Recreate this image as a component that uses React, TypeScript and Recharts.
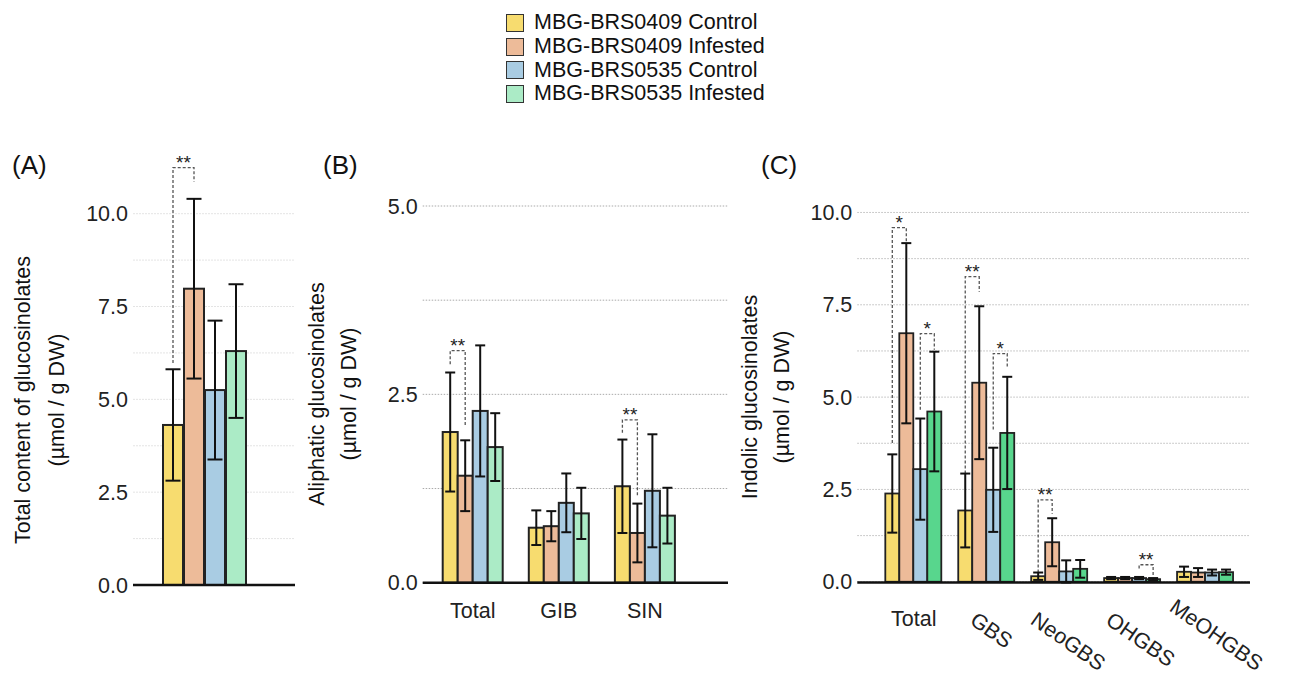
import { Bar, BarChart, CartesianGrid, ErrorBar, XAxis, YAxis } from "recharts";

const FONT = '"Liberation Sans", Arial, Helvetica, sans-serif';
const FS = 21.5;

const seriesNames = [
  "MBG-BRS0409 Control",
  "MBG-BRS0409 Infested",
  "MBG-BRS0535 Control",
  "MBG-BRS0535 Infested"
];
const seriesKeys = ["c409", "i409", "c535", "i535"];
const lightColors = ["#F7DC6F", "#EDBB99", "#A9CCE3", "#ABEBC6"];
const indolicColors = ["#F7DC6F", "#EDBB99", "#A9CCE3", "#58D68D"];

// (A) total glucosinolates
const totalCategories = ["Total"];
const totalC409 = [4.31];
const totalI409 = [7.98];
const totalC535 = [5.25];
const totalI535 = [6.3];
const totalC409Sd = [1.5];
const totalI409Sd = [2.42];
const totalC535Sd = [1.87];
const totalI535Sd = [1.8];

// (B) aliphatic
const aliphaticCategories = ["Total", "GIB", "SIN"];
const aliC409 = [2.0, 0.73, 1.28];
const aliI409 = [1.42, 0.75, 0.66];
const aliC535 = [2.28, 1.06, 1.22];
const aliI535 = [1.8, 0.92, 0.89];
const aliC409Sd = [0.79, 0.23, 0.62];
const aliI409Sd = [0.47, 0.2, 0.39];
const aliC535Sd = [0.87, 0.39, 0.75];
const aliI535Sd = [0.45, 0.34, 0.37];

// (C) indolic
const indolicCategories = ["Total", "GBS", "NeoGBS", "OHGBS", "MeOHGBS"];
const indC409 = [2.39, 1.93, 0.15, 0.1, 0.27];
const indI409 = [6.73, 5.39, 1.07, 0.1, 0.25];
const indC535 = [3.05, 2.49, 0.28, 0.1, 0.25];
const indI535 = [4.61, 4.03, 0.35, 0.07, 0.26];
const indC409Sd = [1.06, 1.0, 0.1, 0.03, 0.14];
const indI409Sd = [2.44, 2.07, 0.65, 0.03, 0.12];
const indC535Sd = [1.37, 1.14, 0.3, 0.03, 0.08];
const indI535Sd = [1.62, 1.52, 0.24, 0.03, 0.07];

const tenTicks = [0, 1.25, 2.5, 3.75, 5, 6.25, 7.5, 8.75, 10];
const fiveTicks = [0, 1.25, 2.5, 3.75, 5];

type Bracket = {
  category: string;
  left: number; // series index of the left bar, the right one is left + 1
  leftEnd: number;
  top: number;
  rightEnd: number;
  label: string;
};

const totalBrackets: Bracket[] = [
  { category: "Total", left: 0, leftEnd: 5.98, top: 11.24, rightEnd: 10.86, label: "**" }
];
const aliphaticBrackets: Bracket[] = [
  { category: "Total", left: 0, leftEnd: 2.9, top: 3.08, rightEnd: 2.07, label: "**" },
  { category: "SIN", left: 0, leftEnd: 1.99, top: 2.16, rightEnd: 1.15, label: "**" }
];
const indolicBrackets: Bracket[] = [
  { category: "Total", left: 0, leftEnd: 3.76, top: 9.59, rightEnd: 9.21, label: "*" },
  { category: "Total", left: 2, leftEnd: 4.66, top: 6.72, rightEnd: 6.28, label: "*" },
  { category: "GBS", left: 0, leftEnd: 2.93, top: 8.26, rightEnd: 7.85, label: "**" },
  { category: "GBS", left: 2, leftEnd: 4.12, top: 6.18, rightEnd: 5.8, label: "*" },
  { category: "NeoGBS", left: 0, leftEnd: 0.25, top: 2.22, rightEnd: 1.84, label: "**" },
  { category: "OHGBS", left: 2, leftEnd: 0.36, top: 0.46, rightEnd: 0.15, label: "**" }
];

function buildRows(categories: string[], means: number[][], sds: number[][]) {
  return categories.map((name, i) => {
    const row: Record<string, any> = { name };
    seriesKeys.forEach((k, s) => {
      row[k] = means[s][i];
      row[k + "Sd"] = sds[s][i];
    });
    return row;
  });
}

const totalRows = buildRows(
  totalCategories,
  [totalC409, totalI409, totalC535, totalI535],
  [totalC409Sd, totalI409Sd, totalC535Sd, totalI535Sd]
);
const aliphaticRows = buildRows(
  aliphaticCategories,
  [aliC409, aliI409, aliC535, aliI535],
  [aliC409Sd, aliI409Sd, aliC535Sd, aliI535Sd]
);
const indolicRows = buildRows(
  indolicCategories,
  [indC409, indI409, indC535, indI535],
  [indC409Sd, indI409Sd, indC535Sd, indI535Sd]
);

const fmtTick = (v: number) =>
  Math.abs(v / 2.5 - Math.round(v / 2.5)) < 1e-6 ? v.toFixed(1) : "";

let measureCtx: CanvasRenderingContext2D | null = null;
function textWidth(s: string, size: number) {
  if (!measureCtx && typeof document !== "undefined") {
    measureCtx = document.createElement("canvas").getContext("2d");
  }
  if (!measureCtx) return s.length * size * 0.6;
  measureCtx.font = `${size}px "Liberation Sans", Arial, sans-serif`;
  return measureCtx.measureText(s).width;
}

// bar with an optional significance bracket to the next bar
function bracketShape(seriesIndex: number, brackets: Bracket[], barGap: number, strokeW: number) {
  const key = seriesKeys[seriesIndex];
  return (props: any) => {
    const { x, y, width, height, fill, payload } = props;
    const v = payload[key];
    const k = v ? height / v : 0;
    const base = y + height;
    const marks = brackets.filter((b) => b.category === payload.name && b.left === seriesIndex);
    return (
      <g>
        <rect x={x} y={y} width={width} height={height} fill={fill} stroke="#222" strokeWidth={strokeW} />
        {marks.map((b, i) => {
          const xl = x + width / 2;
          const xr = xl + width + barGap;
          const yl = base - b.leftEnd * k;
          const yt = base - b.top * k;
          const yr = base - b.rightEnd * k;
          return (
            <g key={i}>
              <path
                d={`M${xl},${yl}V${yt}H${xr}V${yr}`}
                fill="none"
                stroke="#555"
                strokeWidth={1.3}
                strokeDasharray="3 2"
              />
              <text x={(xl + xr) / 2} y={yt + 1} textAnchor="middle" fontSize={19} fill="#222" fontFamily={FONT}>
                {b.label}
              </text>
            </g>
          );
        })}
      </g>
    );
  };
}

const INDOLIC_SVG_HEIGHT = 496;

function IndolicTick(props: any) {
  const { x, y, payload } = props;
  const label = String(payload.value);
  if (label === "Total") {
    return (
      <text x={x} y={y + 43} textAnchor="middle" fontSize={FS} fill="#222" fontFamily={FONT}>
        {label}
      </text>
    );
  }
  const w = textWidth(label, FS);
  const ang = (35 * Math.PI) / 180;
  const half = (w * Math.sin(ang) + 22 * Math.cos(ang)) / 2;
  const cx = x + 0.1 * w;
  // keep the longest label inside the picture
  const cy = Math.min(y + 26 + half, INDOLIC_SVG_HEIGHT - half - 1);
  return (
    <text
      x={cx}
      y={cy}
      textAnchor="middle"
      dominantBaseline="central"
      transform={`rotate(35 ${cx} ${cy})`}
      fontSize={FS}
      fill="#222"
      fontFamily={FONT}
    >
      {label}
    </text>
  );
}

type PanelProps = {
  rows: Record<string, any>[];
  colors: string[];
  brackets: Bracket[];
  left: number;
  top: number;
  width: number;
  height: number;
  marginTop: number;
  marginRight: number;
  marginBottom: number;
  yAxisWidth: number;
  xAxisHeight: number;
  domainMax: number;
  ticks: number[];
  padLeft: number;
  padRight: number;
  barSize: number;
  barGap: number;
  cap: number;
  gridStroke: string;
  gridDash: string;
  xTick: any;
  barStroke: number;
};

function Panel(p: PanelProps) {
  return (
    <div style={{ position: "absolute", left: p.left, top: p.top }}>
      <BarChart
        width={p.width}
        height={p.height}
        data={p.rows}
        margin={{ top: p.marginTop, right: p.marginRight, bottom: p.marginBottom, left: 0 }}
        barSize={p.barSize}
        barGap={p.barGap}
      >
        <CartesianGrid vertical={false} stroke={p.gridStroke} strokeDasharray={p.gridDash} syncWithTicks />
        <XAxis
          dataKey="name"
          height={p.xAxisHeight}
          padding={{ left: p.padLeft, right: p.padRight }}
          axisLine={{ stroke: "#111", strokeWidth: 2.5 }}
          tickLine={false}
          tickSize={0}
          tickMargin={0}
          interval={0}
          tick={p.xTick}
        />
        <YAxis
          width={p.yAxisWidth}
          domain={[0, p.domainMax]}
          ticks={p.ticks}
          interval={0}
          tickFormatter={fmtTick}
          axisLine={false}
          tickLine={false}
          tickSize={0}
          tickMargin={5}
          tick={{ fontSize: FS, fill: "#222", fontFamily: FONT }}
        />
        {seriesKeys.map((k, s) => (
          <Bar
            key={k}
            dataKey={k}
            name={seriesNames[s]}
            fill={p.colors[s]}
            isAnimationActive={false}
            shape={bracketShape(s, p.brackets, p.barGap, p.barStroke)}
          >
            <ErrorBar dataKey={k + "Sd"} width={p.cap} strokeWidth={2} stroke="#111" direction="y" />
          </Bar>
        ))}
      </BarChart>
    </div>
  );
}

function AxisTitle({ x, y, lines, gap }: { x: number; y: number; lines: string[]; gap: number }) {
  return (
    <>
      {lines.map((t, i) => (
        <text
          key={i}
          x={x + i * gap}
          y={y}
          textAnchor="middle"
          dominantBaseline="central"
          transform={`rotate(-90 ${x + i * gap} ${y})`}
          fontSize={FS}
          fill="#111"
          fontFamily={FONT}
        >
          {t}
        </text>
      ))}
    </>
  );
}

export default function App() {
  return (
    <div
      style={{
        position: "absolute",
        left: 0,
        top: 0,
        width: 1303,
        height: 676,
        background: "#fff",
        overflow: "hidden",
        fontFamily: FONT
      }}
    >
      {/* legend */}
      <div style={{ position: "absolute", left: 506, top: 11 }}>
        {seriesNames.map((n, i) => (
          <div key={n} style={{ display: "flex", alignItems: "center", height: 23.8 }}>
            <div
              style={{
                width: 18,
                height: 18,
                boxSizing: "border-box",
                border: "1.5px solid #333",
                background: lightColors[i],
                marginRight: 10
              }}
            />
            <span style={{ fontSize: FS, color: "#111", lineHeight: "23.8px" }}>{n}</span>
          </div>
        ))}
      </div>

      <Panel
        rows={totalRows}
        colors={lightColors}
        brackets={totalBrackets}
        left={0}
        top={140}
        width={310}
        height={470}
        marginTop={18}
        marginRight={15}
        marginBottom={0}
        yAxisWidth={133}
        xAxisHeight={25}
        domainMax={11.5}
        ticks={tenTicks}
        padLeft={20}
        padRight={40}
        barSize={20}
        barGap={1}
        cap={7.5}
        gridStroke="#e4e4e4"
        gridDash="2 1"
        xTick={false}
        barStroke={2}
      />
      <Panel
        rows={aliphaticRows}
        colors={lightColors}
        brackets={aliphaticBrackets}
        left={300}
        top={190}
        width={440}
        height={450}
        marginTop={16}
        marginRight={12}
        marginBottom={20}
        yAxisWidth={122.7}
        xAxisHeight={37.3}
        domainMax={5}
        ticks={fiveTicks}
        padLeft={7}
        padRight={40}
        barSize={15}
        barGap={0}
        cap={5}
        gridStroke="#aaa"
        gridDash="1.5 1.5"
        xTick={(t: any) => (
          <text x={t.x} y={t.y + 35} textAnchor="middle" fontSize={FS} fill="#222" fontFamily={FONT}>
            {t.payload.value}
          </text>
        )}
        barStroke={2}
      />
      <Panel
        rows={indolicRows}
        colors={indolicColors}
        brackets={indolicBrackets}
        left={740}
        top={180}
        width={563}
        height={INDOLIC_SVG_HEIGHT}
        marginTop={14}
        marginRight={53}
        marginBottom={0}
        yAxisWidth={117.3}
        xAxisHeight={93.5}
        domainMax={10.5}
        ticks={tenTicks}
        padLeft={20}
        padRight={8}
        barSize={14}
        barGap={0}
        cap={5}
        gridStroke="#bbb"
        gridDash="1.5 1.5"
        xTick={<IndolicTick />}
        barStroke={1.8}
      />

      <svg
        width={1303}
        height={676}
        style={{ position: "absolute", left: 0, top: 0, pointerEvents: "none" }}
      >
        <text x={12} y={174} fontSize={26} fill="#111" fontFamily={FONT}>(A)</text>
        <text x={323} y={174} fontSize={26} fill="#111" fontFamily={FONT}>(B)</text>
        <text x={761} y={174} fontSize={26} fill="#111" fontFamily={FONT}>(C)</text>
        <AxisTitle x={23} y={400} gap={34} lines={["Total content of glucosinolates", "(µmol / g DW)"]} />
        <AxisTitle x={317} y={394} gap={32} lines={["Aliphatic glucosinolates", "(µmol / g DW)"]} />
        <AxisTitle x={750} y={397} gap={32} lines={["Indolic glucosinolates", "(µmol / g DW)"]} />
      </svg>
    </div>
  );
}
